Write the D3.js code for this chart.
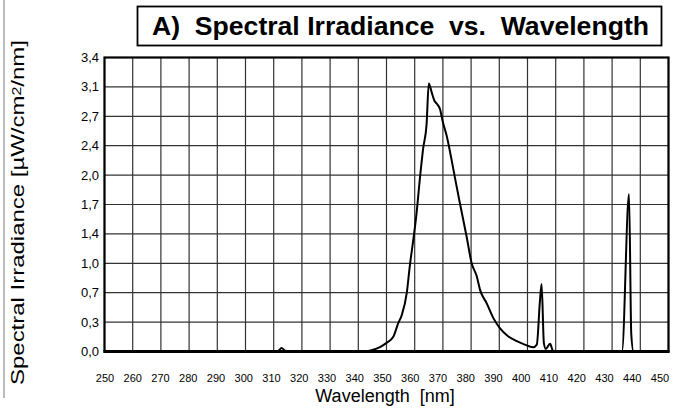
<!DOCTYPE html>
<html><head><meta charset="utf-8">
<script src="https://cdn.jsdelivr.net/npm/d3@7"></script>
<style>body{margin:0;background:#fff}svg{display:block}text{font-family:"Liberation Sans",Arial,sans-serif}</style>
</head><body>
<svg id="c" width="675" height="411"></svg>
<script>
const wavelengths = [250,310,311.5,312.8,314,315,340,344,347.7,350,352.4,354.2,355.4,357.2,358.3,359.5,360.5,361.9,363,364.2,365,366,367,368,369,370,371.3,373,374.5,376,378.4,380.2,382,383.2,385.5,388,390.2,393,396.2,399,402,403.3,404.4,405,405.8,406.5,408,409,410,433.5,436,436.8,437.6,450];
const irradiance  = [0,0,0.005,0.04,0.01,0,0,0.01,0.05,0.1,0.17,0.33,0.42,0.68,1.0,1.29,1.55,2.02,2.35,2.62,3.1,3.0,2.9,2.86,2.8,2.65,2.5,2.23,1.97,1.72,1.33,1.02,0.87,0.71,0.56,0.38,0.27,0.18,0.12,0.08,0.05,0.08,0.58,0.78,0.1,0.03,0.09,0.01,0,0,1.82,0.2,0,0];
const xTicks = d3.range(250,451,10);
const yTicks = [0,0.34,0.68,1.02,1.36,1.7,2.04,2.38,2.72,3.06,3.4];
const yTickLabels = ["0,0","0,3","0,7","1,0","1,4","1,7","2,0","2,4","2,7","3,1","3,4"];
const title = "A)  Spectral Irradiance  vs.  Wavelength";
const xTitle = "Wavelength  [nm]";

const svg = d3.select("#c");
const L=104.5,R=668.5,T=57.5,B=351.5;
const x = d3.scaleLinear().domain([250,450]).range([L,R]);
const xl = d3.scaleLinear().domain([250,450]).range([105,660]);
const y = d3.scaleLinear().domain([0,3.4]).range([B,T]);

svg.append("rect").attr("x",3).attr("y",0).attr("width",2).attr("height",398).attr("fill","#bbb");

svg.append("g").selectAll("line").data(xTicks).join("line")
  .attr("x1",d=>x(d)).attr("x2",d=>x(d)).attr("y1",T).attr("y2",B)
  .attr("stroke","#333").attr("stroke-width",1.2);
svg.append("g").selectAll("line").data(yTicks).join("line")
  .attr("x1",L).attr("x2",R).attr("y1",d=>y(d)).attr("y2",d=>y(d))
  .attr("stroke","#333").attr("stroke-width",1.2);
svg.append("rect").attr("x",L).attr("y",T).attr("width",R-L).attr("height",B-T)
  .attr("fill","none").attr("stroke","#000").attr("stroke-width",2.2);
svg.append("line").attr("x1",L-1).attr("x2",R+1).attr("y1",B).attr("y2",B).attr("stroke","#000").attr("stroke-width",3);

const line = d3.line().x((d,i)=>x(wavelengths[i])).y(d=>y(d)).curve(d3.curveMonotoneX);
svg.append("path").datum(irradiance).attr("d",line).attr("fill","none")
  .attr("stroke","#000").attr("stroke-width",2).attr("stroke-linejoin","round");

svg.append("g").selectAll("text").data(yTicks).join("text")
  .attr("x",99).attr("y",d=>y(d)+4.5).attr("text-anchor","end")
  .attr("font-size",13).text((d,i)=>yTickLabels[i]);
svg.append("g").selectAll("text").data(xTicks).join("text")
  .attr("x",d=>xl(d)).attr("y",382).attr("text-anchor","middle")
  .attr("font-size",11).text(d=>d);
svg.append("text").attr("x",385).attr("y",402).attr("text-anchor","middle")
  .attr("font-size",18).style("white-space","pre").text(xTitle);
const yt = svg.append("text").attr("transform","translate(24,385) rotate(-90)")
  .attr("text-anchor","start").attr("font-size",18)
  .attr("textLength",345).attr("lengthAdjust","spacingAndGlyphs");
yt.append("tspan").text("Spectral Irradiance [µW/cm");
yt.append("tspan").attr("font-size",12).attr("dy",-3).text("2");
yt.append("tspan").attr("dy",3).text("/nm]");

svg.append("rect").attr("x",137.5).attr("y",6.5).attr("width",524).attr("height",39)
  .attr("fill","#fff").attr("stroke","#000").attr("stroke-width",1.8);
svg.append("text").attr("x",152).attr("y",35).attr("text-anchor","start")
  .attr("font-size",25).attr("font-weight","bold").style("white-space","pre")
  .attr("textLength",497).attr("lengthAdjust","spacingAndGlyphs").text(title);
</script>
</body></html>
